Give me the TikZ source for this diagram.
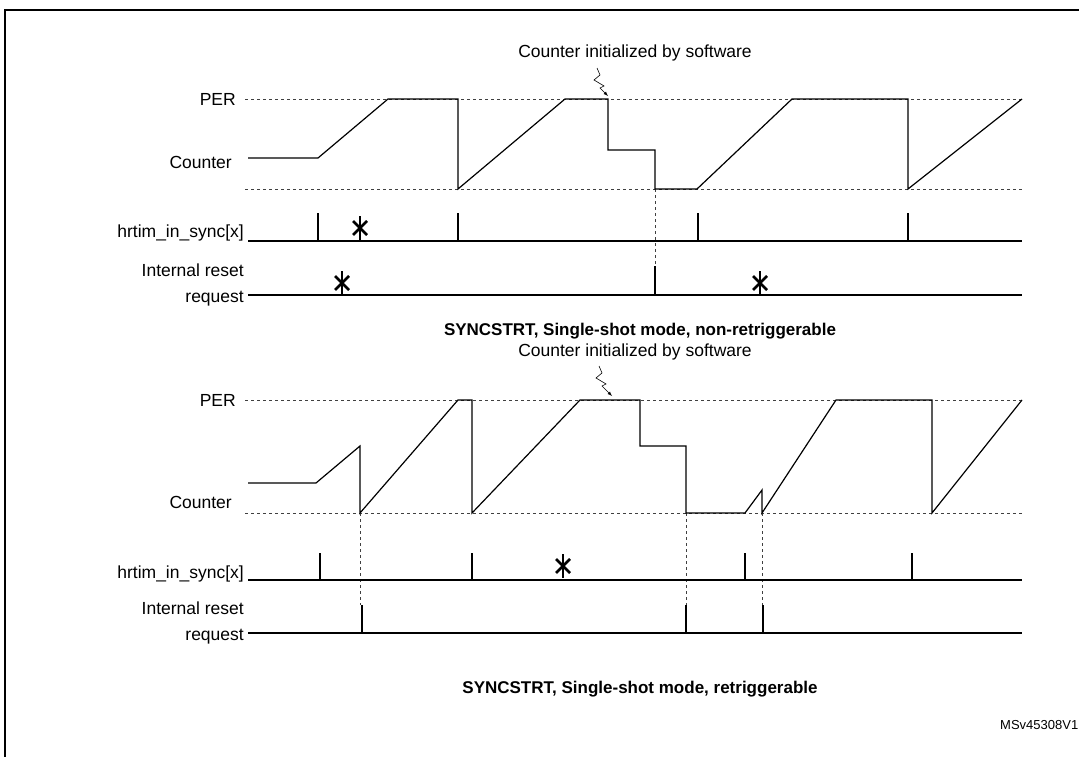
\documentclass[tikz,border=0pt]{standalone}
\usepackage{fontspec}
\setmainfont{Liberation Sans}
\begin{document}
\begin{tikzpicture}[x=1pt,y=-1pt,
  wave/.style={line width=1.2pt},
  dsh/.style={dashed,line width=0.6pt,gray!50!black},
  tick/.style={line width=2.2pt},
  lab/.style={font=\fontsize{17.5}{26}\selectfont,inner sep=0pt},
  capt/.style={font=\bfseries\fontsize{17}{20}\selectfont,inner sep=0pt},
  zz/.style={line width=0.6pt,-latex}]
\useasboundingbox (0,0) rectangle (1079,757);
\draw[line width=1.2pt] (5,757) -- (5,10) -- (1085,10);
% ---------- top ----------
\node[lab,anchor=east] (per1) at (236,99) {PER};
\node[lab,anchor=east] (cnt1) at (232,162) {Counter};
\node[lab,anchor=east] (hs1) at (244,233) {hrtim\_in\_sync[x]};
\node[lab,align=right,anchor=east] (ir1) at (244,285) {Internal reset\\request};
\draw[dsh] (245,99) -- (1022,99);
\draw[dsh] (245,189) -- (1022,189);
\draw[dsh] (655,189) -- (655,266);
\draw[wave] (248,158) -- (318,158) -- (388,99) -- (458,99) -- (458,189) -- (565,99) -- (608,99) -- (608,150) -- (655,150) -- (655,189) -- (697,189) -- (792,99) -- (908,99) -- (908,189) -- (1022,99);
\draw[wave] (248,241) -- (1022,241);
\foreach \x in {318,458,698,908} \draw[tick] (\x,213) -- (\x,241);
\draw[wave] (248,295) -- (1022,295);
\draw[tick] (655,266) -- (655,295);
\node[capt] (c1) at (640,331) {SYNCSTRT, Single-shot mode, non-retriggerable};
\node[lab] (a1) at (635,53) {Counter initialized by software};
\coordinate (a1s) at (597,68);
\coordinate (a1e) at (608,96);
\draw[zz] (a1s) -- (600,75) -- (594,80) -- (604,86) -- (600,88) -- (a1e);
% ---------- bottom ----------
\node[lab,anchor=east] (per2) at (236,400) {PER};
\node[lab,anchor=east] (cnt2) at (232,502) {Counter};
\node[lab,anchor=east] (hs2) at (244,574) {hrtim\_in\_sync[x]};
\node[lab,align=right,anchor=east] (ir2) at (244,623) {Internal reset\\request};
\draw[dsh] (245,400) -- (1022,400);
\draw[dsh] (245,513) -- (1022,513);
\foreach \x in {360,686,762} \draw[dsh] (\x,513) -- (\x,605);
\draw[wave] (248,483) -- (316,483) -- (360,446) -- (360,513) -- (458,400) -- (472,400) -- (472,513) -- (580,400) -- (640,400) -- (640,446) -- (686,446) -- (686,513) -- (745,513) -- (762,490) -- (762,513) -- (836,400) -- (932,400) -- (932,513) -- (1022,400);
\draw[wave] (248,580) -- (1022,580);
\foreach \x in {320,472,745,912} \draw[tick] (\x,553) -- (\x,580);
\draw[wave] (248,633) -- (1022,633);
\foreach \x in {362,686,763} \draw[tick] (\x,605) -- (\x,633);
\node[capt] (c2) at (640,689) {SYNCSTRT, Single-shot mode, retriggerable};
\node[lab] (a2) at (635,352) {Counter initialized by software};
\coordinate (a2s) at (599,366);
\coordinate (a2e) at (612,396);
\draw[zz] (a2s) -- (602,373) -- (596,378) -- (606,384) -- (602,386) -- (a2e);
% stars
\foreach \x/\y in {360/228,342/283,760/283,563/566}{
  \draw[line width=2.6pt] (\x,\y-12) -- (\x,\y+12);
  \draw[line width=2.6pt] (\x-7,\y-7) -- (\x+7,\y+7);
  \draw[line width=2.6pt] (\x-7,\y+7) -- (\x+7,\y-7);
}
\node[font=\fontsize{13}{15}\selectfont,anchor=west,inner sep=0pt] (id) at (1000,725) {MSv45308V1};
\end{tikzpicture}
\end{document}
